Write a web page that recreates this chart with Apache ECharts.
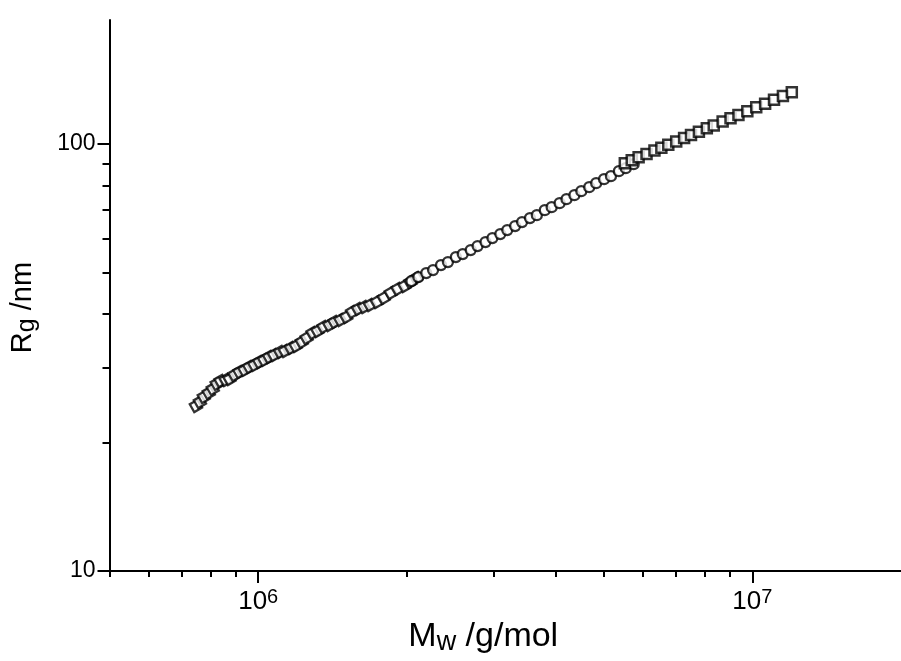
<!DOCTYPE html>
<html><head><meta charset="utf-8">
<script src="https://cdn.jsdelivr.net/npm/echarts@6/dist/echarts.min.js"></script>
<style>html,body{margin:0;padding:0;background:#fff}#c{width:901px;height:661px}</style>
</head><body><div id="c"></div>
<script>
const FONT = '"Liberation Sans", Arial, Helvetica, sans-serif';

// axis ticks
const xMajorTicks = [1e6, 1e7];
const xMinorTicks = [5e5, 6e5, 7e5, 8e5, 9e5, 2e6, 3e6, 4e6, 5e6, 6e6, 7e6, 8e6, 9e6];
const yMajorTicks = [10, 100];
const yMinorTicks = [20, 30, 40, 50, 60, 70, 80, 90];

// series 1 (diamonds)
const diamondMw = [748000, 762000, 776000, 794000, 809000, 824000, 839000, 859000, 875000, 895000,
  916000, 938000, 959000, 982000, 1005000, 1028000, 1052000, 1076000, 1107000, 1132000,
  1164000, 1191000, 1225000, 1253000, 1288000, 1318000, 1355000, 1393000, 1426000, 1466000,
  1507000, 1549000, 1592000, 1637000, 1683000, 1738000, 1795000, 1854000, 1914000, 1977000,
  2032000, 2089000];
const diamondRg = [24.36, 24.89, 25.57, 26.13, 26.70, 27.43, 27.87, 28.02, 28.17, 28.79,
  29.26, 29.58, 30.06, 30.39, 30.88, 31.22, 31.72, 32.06, 32.58, 32.76,
  33.29, 33.65, 34.39, 35.13, 36.09, 36.48, 37.27, 37.68, 38.29, 38.71,
  39.34, 40.41, 41.07, 41.51, 41.96, 42.64, 43.57, 44.76, 45.74, 46.48,
  47.49, 48.53];

// series 2 (circles)
const circleMw = [2.042e6, 2.109e6, 2.188e6, 2.259e6, 2.344e6, 2.421e6, 2.512e6, 2.594e6, 2.692e6, 2.780e6,
  2.884e6, 2.979e6, 3.090e6, 3.192e6, 3.311e6, 3.420e6, 3.548e6, 3.664e6, 3.802e6, 3.926e6,
  4.074e6, 4.207e6, 4.365e6, 4.508e6, 4.677e6, 4.831e6, 5.012e6, 5.176e6, 5.370e6, 5.546e6, 5.754e6];
const circleRg = [47.75, 48.79, 49.85, 50.67, 52.05, 52.89, 54.34, 55.22, 56.43, 57.65,
  58.91, 60.18, 61.50, 62.83, 64.21, 65.60, 67.03, 68.12, 69.98, 71.12,
  72.67, 74.24, 75.87, 77.51, 79.21, 80.92, 82.70, 84.04, 86.34, 87.74, 89.64];

// series 3 (squares)
const squareMw = [5.521e6, 5.702e6, 5.888e6, 6.109e6, 6.339e6, 6.546e6, 6.761e6, 7.015e6, 7.278e6, 7.516e6,
  7.798e6, 8.091e6, 8.356e6, 8.710e6, 9.036e6, 9.376e6, 9.772e6, 10.186e6, 10.617e6, 11.066e6,
  11.535e6, 12.023e6];
const squareRg = [90.13, 91.55, 93.04, 94.71, 96.46, 97.98, 99.57, 101.36, 103.23, 104.85,
  106.79, 108.76, 110.47, 112.76, 114.78, 116.9, 119.3, 121.8, 124.2, 126.8,
  129.4, 132.1];

const zip = (a, b) => a.map((v, i) => [v, b[i]]);
const lineStyle = { color: '#000', width: 2 };

const chart = echarts.init(document.getElementById('c'), null, { renderer: 'canvas' });
const option = {
  animation: false,
  backgroundColor: '#fff',
  grid: { left: 107, top: 20, width: 800, height: 551.5, containLabel: false },
  xAxis: [{
    type: 'log', logBase: 10, min: 5e5, max: 2e7, position: 'bottom',
    axisLine: { show: true, onZero: false, lineStyle: lineStyle },
    axisTick: { show: true, inside: false, length: 12, customValues: xMajorTicks, lineStyle: lineStyle },
    axisLabel: {
      show: true, customValues: xMajorTicks, margin: 16, color: '#000',
      formatter: v => '{b|10}{sup|' + Math.round(Math.log10(v)) + '}',
      rich: {
        b: { fontSize: 26, fontFamily: FONT, color: '#000', lineHeight: 30 },
        sup: { fontSize: 20, fontFamily: FONT, color: '#000', lineHeight: 16, verticalAlign: 'top' }
      }
    },
    splitLine: { show: false }, minorTick: { show: false },
    name: '{b|M}{sub|w}{b| /g/mol}', nameLocation: 'middle', nameGap: 42,
    nameTextStyle: {
      padding: [0, 44, 0, 0],
      rich: {
        b: { fontSize: 34, fontFamily: FONT, color: '#000', lineHeight: 38 },
        sub: { fontSize: 27, fontFamily: FONT, color: '#000', lineHeight: 22, verticalAlign: 'bottom' }
      }
    }
  }, {
    type: 'log', logBase: 10, min: 5e5, max: 2e7, position: 'bottom',
    axisLine: { show: false, onZero: false },
    axisTick: { show: true, inside: false, length: 6, customValues: xMinorTicks, lineStyle: lineStyle },
    axisLabel: { show: false }, splitLine: { show: false }
  }],
  yAxis: [{
    type: 'log', logBase: 10, min: 10, max: 195, position: 'left',
    axisLine: { show: true, onZero: false, lineStyle: lineStyle },
    axisTick: { show: true, inside: false, length: 12, customValues: yMajorTicks, lineStyle: lineStyle },
    axisLabel: { show: true, customValues: yMajorTicks, margin: 14, color: '#000', fontSize: 23, fontFamily: FONT },
    splitLine: { show: false }, minorTick: { show: false },
    name: '{b|R}{sub|g}{b| /nm}', nameLocation: 'middle', nameRotate: 90, nameGap: 70,
    nameTextStyle: {
      padding: [0, 24, 0, 0],
      rich: {
        b: { fontSize: 29, fontFamily: FONT, color: '#000', lineHeight: 34 },
        sub: { fontSize: 25, fontFamily: FONT, color: '#000', lineHeight: 22, verticalAlign: 'bottom' }
      }
    }
  }, {
    type: 'log', logBase: 10, min: 10, max: 195, position: 'left',
    axisLine: { show: false, onZero: false },
    axisTick: { show: true, inside: false, length: 7, customValues: yMinorTicks, lineStyle: lineStyle },
    axisLabel: { show: false }, splitLine: { show: false }
  }],
  series: [{
    type: 'scatter', data: zip(diamondMw, diamondRg),
    symbol: 'rect', symbolSize: 9, symbolRotate: 30,
    itemStyle: { color: '#fff', borderColor: '#000', borderWidth: 2.3 }
  }, {
    type: 'scatter', data: zip(circleMw, circleRg),
    symbol: 'circle', symbolSize: 10,
    itemStyle: { color: '#fff', borderColor: '#000', borderWidth: 2.3 }
  }, {
    type: 'scatter', data: zip(squareMw, squareRg),
    symbol: 'rect', symbolSize: 10,
    itemStyle: { color: '#fff', borderColor: '#000', borderWidth: 2.5 }
  }]
};
chart.setOption(option);
</script></body></html>
